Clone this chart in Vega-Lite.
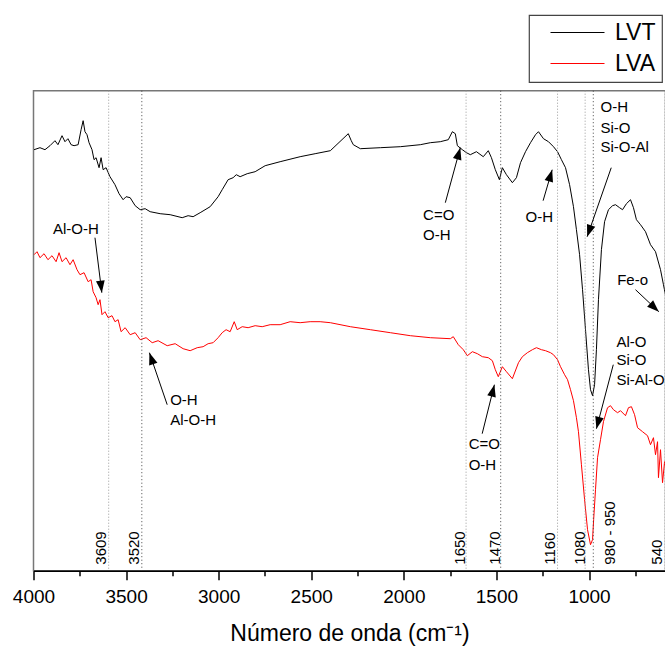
{
  "$schema": "https://vega.github.io/schema/vega-lite/v6.json",
  "width": 632,
  "height": 480,
  "autosize": {"type": "none"},
  "padding": {"left": 33.5, "top": 90.7, "right": 0, "bottom": 77.3},
  "config": {
    "font": "Liberation Sans",
    "view": {"stroke": "#777", "strokeWidth": 1.5},
    "legend": {"strokeWidth": 1.2}
  },
  "resolve": {"axis": {"x": "independent"}},
  "datasets": {
    "spec": [
      {"s":"LVT","wn":3997,"t":421},{"s":"LVT","wn":3965,"t":423},{"s":"LVT","wn":3938,"t":421},{"s":"LVT","wn":3911,"t":425},{"s":"LVT","wn":3884,"t":430},{"s":"LVT","wn":3868,"t":426},{"s":"LVT","wn":3846,"t":435},{"s":"LVT","wn":3830,"t":429},{"s":"LVT","wn":3814,"t":432},{"s":"LVT","wn":3797,"t":426},{"s":"LVT","wn":3781,"t":425},{"s":"LVT","wn":3759,"t":426},{"s":"LVT","wn":3743,"t":441},{"s":"LVT","wn":3732,"t":450},{"s":"LVT","wn":3722,"t":439},{"s":"LVT","wn":3711,"t":436},{"s":"LVT","wn":3700,"t":428},{"s":"LVT","wn":3684,"t":421},{"s":"LVT","wn":3673,"t":411},{"s":"LVT","wn":3662,"t":413},{"s":"LVT","wn":3646,"t":403},{"s":"LVT","wn":3635,"t":413},{"s":"LVT","wn":3624,"t":401},{"s":"LVT","wn":3608,"t":403},{"s":"LVT","wn":3587,"t":394},{"s":"LVT","wn":3560,"t":386},{"s":"LVT","wn":3538,"t":377},{"s":"LVT","wn":3516,"t":371},{"s":"LVT","wn":3500,"t":374},{"s":"LVT","wn":3478,"t":373},{"s":"LVT","wn":3451,"t":365},{"s":"LVT","wn":3424,"t":361},{"s":"LVT","wn":3397,"t":362},{"s":"LVT","wn":3370,"t":359},{"s":"LVT","wn":3316,"t":357},{"s":"LVT","wn":3262,"t":356},{"s":"LVT","wn":3197,"t":353},{"s":"LVT","wn":3165,"t":355},{"s":"LVT","wn":3138,"t":354},{"s":"LVT","wn":3100,"t":358},{"s":"LVT","wn":3046,"t":364},{"s":"LVT","wn":3003,"t":374},{"s":"LVT","wn":2981,"t":381},{"s":"LVT","wn":2949,"t":391},{"s":"LVT","wn":2922,"t":393},{"s":"LVT","wn":2905,"t":396},{"s":"LVT","wn":2884,"t":394},{"s":"LVT","wn":2846,"t":397},{"s":"LVT","wn":2803,"t":399},{"s":"LVT","wn":2749,"t":405},{"s":"LVT","wn":2668,"t":409},{"s":"LVT","wn":2560,"t":414},{"s":"LVT","wn":2479,"t":417},{"s":"LVT","wn":2397,"t":420},{"s":"LVT","wn":2300,"t":437},{"s":"LVT","wn":2284,"t":430},{"s":"LVT","wn":2273,"t":426},{"s":"LVT","wn":2235,"t":422},{"s":"LVT","wn":2127,"t":423},{"s":"LVT","wn":2019,"t":424},{"s":"LVT","wn":1911,"t":426},{"s":"LVT","wn":1857,"t":428},{"s":"LVT","wn":1803,"t":429},{"s":"LVT","wn":1760,"t":431},{"s":"LVT","wn":1738,"t":439},{"s":"LVT","wn":1722,"t":437},{"s":"LVT","wn":1711,"t":425},{"s":"LVT","wn":1684,"t":421},{"s":"LVT","wn":1662,"t":418},{"s":"LVT","wn":1641,"t":416},{"s":"LVT","wn":1608,"t":419},{"s":"LVT","wn":1571,"t":414},{"s":"LVT","wn":1544,"t":420},{"s":"LVT","wn":1527,"t":413},{"s":"LVT","wn":1506,"t":401},{"s":"LVT","wn":1484,"t":391},{"s":"LVT","wn":1468,"t":403},{"s":"LVT","wn":1446,"t":396},{"s":"LVT","wn":1414,"t":388},{"s":"LVT","wn":1392,"t":393},{"s":"LVT","wn":1370,"t":408},{"s":"LVT","wn":1343,"t":419},{"s":"LVT","wn":1316,"t":428},{"s":"LVT","wn":1289,"t":436},{"s":"LVT","wn":1273,"t":439},{"s":"LVT","wn":1246,"t":432},{"s":"LVT","wn":1219,"t":429},{"s":"LVT","wn":1192,"t":424},{"s":"LVT","wn":1170,"t":419},{"s":"LVT","wn":1149,"t":411},{"s":"LVT","wn":1127,"t":403},{"s":"LVT","wn":1105,"t":386},{"s":"LVT","wn":1084,"t":364},{"s":"LVT","wn":1068,"t":341},{"s":"LVT","wn":1051,"t":316},{"s":"LVT","wn":1035,"t":281},{"s":"LVT","wn":1019,"t":241},{"s":"LVT","wn":1003,"t":201},{"s":"LVT","wn":992,"t":181},{"s":"LVT","wn":981,"t":175},{"s":"LVT","wn":970,"t":186},{"s":"LVT","wn":960,"t":221},{"s":"LVT","wn":949,"t":271},{"s":"LVT","wn":933,"t":321},{"s":"LVT","wn":916,"t":349},{"s":"LVT","wn":895,"t":361},{"s":"LVT","wn":873,"t":365},{"s":"LVT","wn":857,"t":366},{"s":"LVT","wn":835,"t":363},{"s":"LVT","wn":819,"t":361},{"s":"LVT","wn":798,"t":367},{"s":"LVT","wn":776,"t":371},{"s":"LVT","wn":760,"t":363},{"s":"LVT","wn":744,"t":351},{"s":"LVT","wn":722,"t":346},{"s":"LVT","wn":695,"t":339},{"s":"LVT","wn":668,"t":326},{"s":"LVT","wn":641,"t":319},{"s":"LVT","wn":614,"t":301},{"s":"LVT","wn":598,"t":286},{"s":"LVT","wn":582,"t":271},
      {"s":"LVA","wn":3997,"t":316},{"s":"LVA","wn":3981,"t":319},{"s":"LVA","wn":3965,"t":313},{"s":"LVA","wn":3943,"t":317},{"s":"LVA","wn":3922,"t":311},{"s":"LVA","wn":3900,"t":315},{"s":"LVA","wn":3878,"t":309},{"s":"LVA","wn":3862,"t":318},{"s":"LVA","wn":3846,"t":309},{"s":"LVA","wn":3824,"t":313},{"s":"LVA","wn":3803,"t":306},{"s":"LVA","wn":3786,"t":311},{"s":"LVA","wn":3765,"t":301},{"s":"LVA","wn":3749,"t":296},{"s":"LVA","wn":3727,"t":298},{"s":"LVA","wn":3705,"t":289},{"s":"LVA","wn":3689,"t":291},{"s":"LVA","wn":3678,"t":279},{"s":"LVA","wn":3662,"t":273},{"s":"LVA","wn":3651,"t":266},{"s":"LVA","wn":3641,"t":271},{"s":"LVA","wn":3630,"t":256},{"s":"LVA","wn":3614,"t":259},{"s":"LVA","wn":3597,"t":253},{"s":"LVA","wn":3576,"t":255},{"s":"LVA","wn":3560,"t":249},{"s":"LVA","wn":3543,"t":251},{"s":"LVA","wn":3527,"t":239},{"s":"LVA","wn":3505,"t":243},{"s":"LVA","wn":3478,"t":236},{"s":"LVA","wn":3451,"t":238},{"s":"LVA","wn":3424,"t":231},{"s":"LVA","wn":3392,"t":233},{"s":"LVA","wn":3359,"t":228},{"s":"LVA","wn":3327,"t":230},{"s":"LVA","wn":3278,"t":225},{"s":"LVA","wn":3235,"t":227},{"s":"LVA","wn":3192,"t":222},{"s":"LVA","wn":3154,"t":220},{"s":"LVA","wn":3116,"t":223},{"s":"LVA","wn":3084,"t":224},{"s":"LVA","wn":3057,"t":227},{"s":"LVA","wn":3030,"t":228},{"s":"LVA","wn":3003,"t":233},{"s":"LVA","wn":2981,"t":238},{"s":"LVA","wn":2960,"t":241},{"s":"LVA","wn":2938,"t":239},{"s":"LVA","wn":2916,"t":249},{"s":"LVA","wn":2900,"t":241},{"s":"LVA","wn":2873,"t":244},{"s":"LVA","wn":2841,"t":243},{"s":"LVA","wn":2803,"t":245},{"s":"LVA","wn":2765,"t":244},{"s":"LVA","wn":2722,"t":246},{"s":"LVA","wn":2668,"t":246},{"s":"LVA","wn":2614,"t":249},{"s":"LVA","wn":2560,"t":248},{"s":"LVA","wn":2506,"t":249},{"s":"LVA","wn":2452,"t":249},{"s":"LVA","wn":2397,"t":248},{"s":"LVA","wn":2289,"t":244},{"s":"LVA","wn":2181,"t":241},{"s":"LVA","wn":2073,"t":238},{"s":"LVA","wn":1965,"t":235},{"s":"LVA","wn":1857,"t":233},{"s":"LVA","wn":1749,"t":232},{"s":"LVA","wn":1733,"t":234},{"s":"LVA","wn":1706,"t":226},{"s":"LVA","wn":1679,"t":221},{"s":"LVA","wn":1657,"t":215},{"s":"LVA","wn":1630,"t":219},{"s":"LVA","wn":1603,"t":217},{"s":"LVA","wn":1576,"t":214},{"s":"LVA","wn":1544,"t":213},{"s":"LVA","wn":1522,"t":210},{"s":"LVA","wn":1506,"t":201},{"s":"LVA","wn":1490,"t":194},{"s":"LVA","wn":1468,"t":204},{"s":"LVA","wn":1446,"t":199},{"s":"LVA","wn":1414,"t":192},{"s":"LVA","wn":1381,"t":208},{"s":"LVA","wn":1360,"t":214},{"s":"LVA","wn":1333,"t":218},{"s":"LVA","wn":1306,"t":221},{"s":"LVA","wn":1284,"t":223},{"s":"LVA","wn":1257,"t":221},{"s":"LVA","wn":1235,"t":220},{"s":"LVA","wn":1208,"t":218},{"s":"LVA","wn":1192,"t":216},{"s":"LVA","wn":1170,"t":211},{"s":"LVA","wn":1154,"t":204},{"s":"LVA","wn":1132,"t":196},{"s":"LVA","wn":1116,"t":191},{"s":"LVA","wn":1100,"t":181},{"s":"LVA","wn":1084,"t":170},{"s":"LVA","wn":1068,"t":153},{"s":"LVA","wn":1057,"t":139},{"s":"LVA","wn":1041,"t":106},{"s":"LVA","wn":1024,"t":71},{"s":"LVA","wn":1008,"t":41},{"s":"LVA","wn":992,"t":26},{"s":"LVA","wn":981,"t":31},{"s":"LVA","wn":975,"t":51},{"s":"LVA","wn":965,"t":81},{"s":"LVA","wn":954,"t":113},{"s":"LVA","wn":938,"t":131},{"s":"LVA","wn":922,"t":149},{"s":"LVA","wn":900,"t":163},{"s":"LVA","wn":884,"t":165},{"s":"LVA","wn":868,"t":161},{"s":"LVA","wn":846,"t":158},{"s":"LVA","wn":830,"t":160},{"s":"LVA","wn":803,"t":155},{"s":"LVA","wn":787,"t":163},{"s":"LVA","wn":771,"t":164},{"s":"LVA","wn":754,"t":156},{"s":"LVA","wn":738,"t":143},{"s":"LVA","wn":711,"t":139},{"s":"LVA","wn":684,"t":135},{"s":"LVA","wn":668,"t":126},{"s":"LVA","wn":652,"t":133},{"s":"LVA","wn":641,"t":116},{"s":"LVA","wn":630,"t":129},{"s":"LVA","wn":625,"t":93},{"s":"LVA","wn":614,"t":121},{"s":"LVA","wn":603,"t":88},{"s":"LVA","wn":592,"t":109},{"s":"LVA","wn":582,"t":96}
    ],
    "lines": [
      {"lab":"3609","wn":3594,"lwn":3592},
      {"lab":"3520","wn":3415,"lwn":3412},
      {"lab":"1650","wn":1664,"lwn":1655},
      {"lab":"1470","wn":1477,"lwn":1462},
      {"lab":"1160","wn":1170,"lwn":1165},
      {"lab":"1080","wn":1021,"lwn":1003},
      {"lab":"980 - 950","wn":977,"lwn":841},
      {"lab":"540","wn":590,"lwn":588}
    ],
    "ann": [
      {"txt":"Al-O-H","wn":3895,"t":342},
      {"txt":"O-H","wn":3262,"t":171},
      {"txt":"Al-O-H","wn":3262,"t":151},
      {"txt":"C=O","wn":1896,"t":356},
      {"txt":"O-H","wn":1896,"t":336},
      {"txt":"O-H","wn":1343,"t":354},
      {"txt":"O-H","wn":938,"t":464},
      {"txt":"Si-O","wn":938,"t":443},
      {"txt":"Si-O-Al","wn":938,"t":424},
      {"txt":"Fe-o","wn":848,"t":291},
      {"txt":"Al-O","wn":852,"t":229},
      {"txt":"Si-O","wn":852,"t":211},
      {"txt":"Si-Al-O","wn":852,"t":191},
      {"txt":"C=O","wn":1650,"t":127},
      {"txt":"O-H","wn":1650,"t":106}
    ],
    "arrows": [
      {"wn1":3668,"t1":333,"wn2":3631,"t2":278},
      {"wn1":3278,"t1":166,"wn2":3374,"t2":218},
      {"wn1":1776,"t1":368,"wn2":1695,"t2":423},
      {"wn1":1248,"t1":370,"wn2":1199,"t2":401},
      {"wn1":880,"t1":403,"wn2":1010,"t2":334},
      {"wn1":749,"t1":281,"wn2":623,"t2":259},
      {"wn1":869,"t1":206,"wn2":960,"t2":142},
      {"wn1":1577,"t1":137,"wn2":1511,"t2":186}
    ]
  },
  "layer": [
    {
      "data": {"name": "spec"},
      "mark": {"type": "line", "strokeWidth": 1, "clip": true},
      "encoding": {
        "x": {
          "field": "wn", "type": "quantitative",
          "scale": {"domain": [587, 4000], "reverse": true, "nice": false, "zero": false},
          "axis": {
            "orient": "bottom",
            "title": "Número de onda (cm⁻¹)",
            "values": [4000, 3500, 3000, 2500, 2000, 1500, 1000],
            "format": "d",
            "grid": false,
            "domainColor": "black", "domainWidth": 1.5,
            "tickColor": "black", "tickWidth": 1.5, "tickSize": 9,
            "labelFontSize": 19, "labelColor": "black", "labelPadding": 8, "labelFlush": false,
            "titleFontSize": 23, "titleFontWeight": "normal", "titleColor": "black", "titlePadding": 16
          }
        },
        "y": {"field": "t", "type": "quantitative", "scale": {"domain": [0, 480], "nice": false, "zero": false}, "axis": null},
        "color": {
          "field": "s", "type": "nominal",
          "scale": {"domain": ["LVT", "LVA"], "range": ["#000000", "#ff0000"]},
          "legend": {
            "orient": "none", "legendX": 495.5, "legendY": -75.7, "title": null,
            "symbolType": "M-3,0L3,0", "symbolSize": 324, "symbolStrokeWidth": 1,
            "labelFontSize": 23, "labelColor": "black", "labelOffset": 26,
            "padding": 6, "symbolOffset": 31, "rowPadding": 7,
            "strokeColor": "#444", "fillColor": "white"
          }
        }
      }
    },
    {
      "data": {"name": "lines"},
      "transform": [{"filter": {"not": {"field": "lab", "oneOf": ["3520", "1470", "980 - 950"]}}}],
      "mark": {"type": "rule", "color": "#9a9a9a", "strokeWidth": 1, "strokeDash": [1, 2]},
      "encoding": {
        "x": {
          "field": "wn", "type": "quantitative",
          "axis": {
            "orient": "bottom", "title": null, "labels": false, "domain": false, "grid": false,
            "values": [3750, 3250, 2750, 2250, 1750, 1250, 750],
            "tickColor": "black", "tickWidth": 1.5, "tickSize": 5
          }
        }
      }
    },
    {
      "data": {"name": "lines"},
      "transform": [{"filter": {"field": "lab", "oneOf": ["3520", "1470", "980 - 950"]}}],
      "mark": {"type": "rule", "color": "#444", "strokeWidth": 1, "strokeDash": [1, 2.5]},
      "encoding": {
        "x": {"field": "wn", "type": "quantitative", "axis": null}
      }
    },
    {
      "data": {"name": "lines"},
      "mark": {"type": "text", "angle": 270, "align": "left", "baseline": "bottom", "fontSize": 15, "color": "black"},
      "encoding": {
        "x": {"field": "lwn", "type": "quantitative", "axis": null},
        "y": {"datum": 6, "type": "quantitative"},
        "text": {"field": "lab", "type": "nominal"}
      }
    },
    {
      "data": {"name": "arrows"},
      "mark": {"type": "rule", "color": "black", "strokeWidth": 1},
      "encoding": {
        "x": {"field": "wn1", "type": "quantitative", "axis": null},
        "x2": {"field": "wn2"},
        "y": {"field": "t1", "type": "quantitative"},
        "y2": {"field": "t2"}
      }
    },
    {
      "data": {"name": "arrows"},
      "transform": [{"calculate": "atan2(-(datum.wn2 - datum.wn1) * 0.18517, datum.t2 - datum.t1) * 180 / PI", "as": "ang"}],
      "mark": {"type": "point", "shape": "M0,0L-0.4,1.1L0.4,1.1Z", "filled": true, "color": "black", "opacity": 1, "size": 475, "strokeWidth": 0},
      "encoding": {
        "x": {"field": "wn2", "type": "quantitative", "axis": null},
        "y": {"field": "t2", "type": "quantitative"},
        "angle": {"field": "ang", "type": "quantitative", "scale": null}
      }
    },
    {
      "data": {"name": "ann"},
      "mark": {"type": "text", "align": "left", "baseline": "middle", "fontSize": 15, "color": "black"},
      "encoding": {
        "x": {"field": "wn", "type": "quantitative", "axis": null},
        "y": {"field": "t", "type": "quantitative"},
        "text": {"field": "txt", "type": "nominal"}
      }
    }
  ]
}
